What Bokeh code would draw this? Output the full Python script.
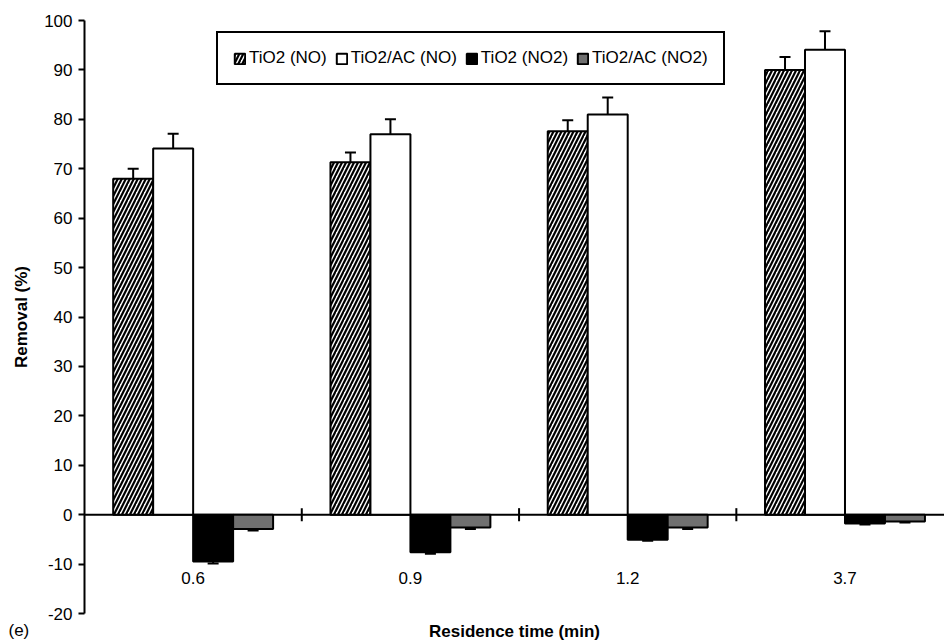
from bokeh.plotting import figure
from bokeh.models import (Range1d, ColumnDataSource, Whisker, TeeHead, Legend, LegendItem,
                          FixedTicker, Label)
from bokeh.core.properties import value
from bokeh.embed import file_html
from bokeh.resources import INLINE

categories = ["0.6", "0.9", "1.2", "3.7"]
tio2_no = [68.0, 71.3, 77.6, 90.0]
tio2_no_err = [2.0, 2.0, 2.2, 2.6]
tio2ac_no = [74.1, 77.0, 81.0, 94.1]
tio2ac_no_err = [3.0, 3.0, 3.4, 3.7]
tio2_no2 = [-9.5, -7.6, -5.1, -1.8]
tio2_no2_err = [0.4, 0.3, 0.2, 0.2]
tio2ac_no2 = [-2.9, -2.6, -2.6, -1.4]
tio2ac_no2_err = [0.3, 0.3, 0.3, 0.2]
series_names = ["TiO2 (NO)", "TiO2/AC (NO)", "TiO2 (NO2)", "TiO2/AC (NO2)"]
y_ticks = list(range(-20, 101, 10))

FONT = "Liberation Sans"
centers = [i + 0.5 for i in range(len(categories))]
offsets = [-0.276, -0.092, 0.092, 0.276]
bw = 0.184

p = figure(width=944, height=643, output_backend="svg", toolbar_location=None,
           x_range=Range1d(0, 3.958), y_range=Range1d(-20, 100),
           min_border_left=84, min_border_right=0, min_border_top=20, min_border_bottom=29)
p.xgrid.visible = False
p.ygrid.visible = False
p.outline_line_color = None
p.background_fill_color = "white"
p.border_fill_color = "white"

# zero line
p.line(x=[0, 3.958], y=[0, 0], line_color="black", line_width=2)

styles = [
    dict(fill_color="white", hatch_pattern="/", hatch_color="black", hatch_scale=8, hatch_weight=2.2),
    dict(fill_color="white"),
    dict(fill_color="black"),
    dict(fill_color="#707070"),
]
vals = [tio2_no, tio2ac_no, tio2_no2, tio2ac_no2]
errs = [tio2_no_err, tio2ac_no_err, tio2_no2_err, tio2ac_no2_err]

renderers = []
for k in range(4):
    xs = [c + offsets[k] for c in centers]
    src = ColumnDataSource(dict(x=xs, top=vals[k],
                                upper=[v + e for v, e in zip(vals[k], errs[k])],
                                lower=[v - e for v, e in zip(vals[k], errs[k])]))
    r = p.vbar(x="x", top="top", bottom=0, width=bw, source=src,
               line_color="black", line_width=2, **styles[k])
    renderers.append(r)
    w = Whisker(base="x", upper="upper", lower="lower", source=src, line_width=2,
                line_color="black",
                upper_head=TeeHead(size=11, line_width=2, line_color="black"),
                lower_head=TeeHead(size=11, line_width=2, line_color="black"))
    p.add_layout(w)

# category boundary ticks on the zero line
p.scatter(x=[1, 2, 3], y=[0, 0, 0], marker="dash", angle=1.5708, size=13,
          line_color="black", line_width=2)

# category labels
p.text(x=centers, y=[-11.6] * 4, text=categories, text_align="center", text_baseline="top",
       text_font=value(FONT), text_font_size="17px", text_color="black")

# y axis
p.yaxis.ticker = FixedTicker(ticks=y_ticks)
p.yaxis.major_label_overrides = {t: str(t) for t in y_ticks}
p.yaxis.axis_line_width = 2
p.yaxis.major_tick_line_width = 2
p.yaxis.major_tick_out = 6
p.yaxis.major_tick_in = 0
p.yaxis.minor_tick_line_color = None
p.yaxis.major_label_text_font = FONT
p.yaxis.major_label_text_font_size = "17px"
p.yaxis.major_label_text_color = "black"
p.yaxis.major_label_standoff = 6
p.yaxis.axis_label = "Removal (%)"
p.yaxis.axis_label_text_font = FONT
p.yaxis.axis_label_text_font_size = "17px"
p.yaxis.axis_label_text_font_style = "bold"
p.yaxis.axis_label_text_color = "black"
p.yaxis.axis_label_standoff = 10

# x axis: title only
p.xaxis.ticker = FixedTicker(ticks=[])
p.xaxis.axis_line_color = None
p.xaxis.major_tick_out = 0
p.xaxis.major_tick_in = 0
p.xaxis.minor_tick_line_color = None
p.xaxis.major_label_text_font_size = "0px"
p.xaxis.axis_label = "Residence time (min)"
p.xaxis.axis_label_text_font = FONT
p.xaxis.axis_label_text_font_size = "17px"
p.xaxis.axis_label_text_font_style = "bold"
p.xaxis.axis_label_text_color = "black"
p.xaxis.axis_label_standoff = 8

# panel tag, placed in the (otherwise empty) top side panel so it is not clipped to the frame
p.add_layout(Label(x=-76, y=-619, x_units="screen", y_units="screen", text="(e)",
                   text_font=FONT, text_font_size="17px", text_color="black",
                   text_baseline="bottom"), "above")

legend = Legend(items=[LegendItem(label=series_names[k], renderers=[renderers[k]]) for k in range(4)],
                orientation="horizontal", location=(132, 528),
                border_line_color="black", border_line_width=2, border_line_alpha=1,
                background_fill_color="white", background_fill_alpha=1,
                label_text_font=FONT, label_text_font_size="17px", label_text_color="black",
                glyph_width=13, glyph_height=13, label_standoff=3, spacing=8,
                padding=15, margin=0, label_height=17)
p.add_layout(legend)

open("out.html", "w").write(file_html(p, INLINE))
